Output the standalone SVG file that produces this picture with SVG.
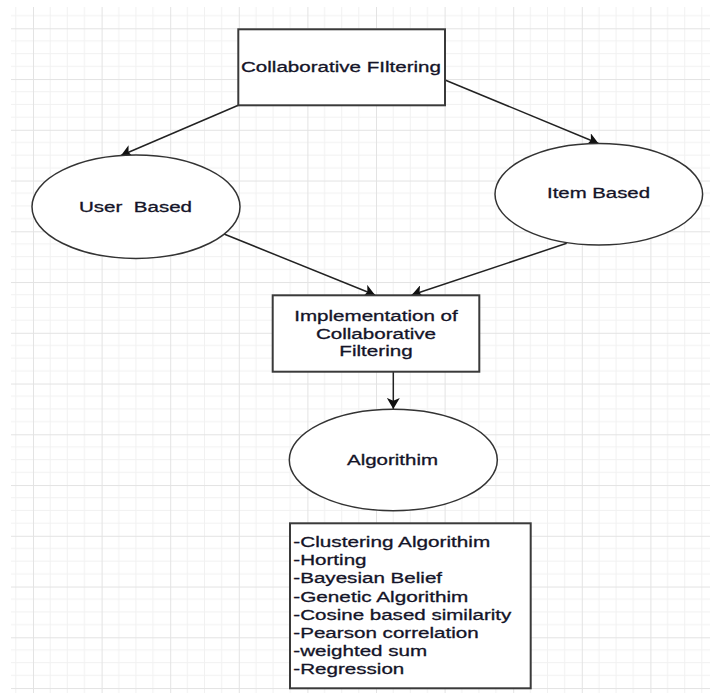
<svg xmlns="http://www.w3.org/2000/svg" width="710" height="695" viewBox="0 0 710 695">
  <style>
    .shape { fill: #ffffff; stroke: #333333; stroke-width: 1.5; }
    .box { fill: #ffffff; stroke: #3a3a3a; stroke-width: 2; }
    .edge { fill: none; stroke: #222222; stroke-width: 1.5; marker-end: url(#arrow); }
    .lbl { font-family: "Liberation Sans", Arial, sans-serif; font-size: 15.2px; fill: #141428; stroke: #141428; stroke-width: 0.3; white-space: pre; }
    .mid { text-anchor: middle; }
  </style>
  <defs>
    <pattern id="grid" patternUnits="userSpaceOnUse" x="33" y="28.3" width="68.6" height="50.75">
      <g stroke="#f1f1f1" stroke-width="1">
        <line x1="17.15" y1="0" x2="17.15" y2="50.75"/>
        <line x1="34.3" y1="0" x2="34.3" y2="50.75"/>
        <line x1="51.45" y1="0" x2="51.45" y2="50.75"/>
        <line x1="0" y1="12.69" x2="68.6" y2="12.69"/>
        <line x1="0" y1="25.38" x2="68.6" y2="25.38"/>
        <line x1="0" y1="38.06" x2="68.6" y2="38.06"/>
      </g>
      <g stroke="#e3e3e3" stroke-width="1">
        <line x1="0.5" y1="0" x2="0.5" y2="50.75"/>
        <line x1="0" y1="0.5" x2="68.6" y2="0.5"/>
      </g>
    </pattern>
    <marker id="arrow" viewBox="0 0 11 13" markerWidth="11" markerHeight="13" refX="11" refY="6.5" orient="auto" markerUnits="userSpaceOnUse">
      <path d="M0,0 L11,6.5 L0,13 L2.8,6.5 Z" fill="#111111"/>
    </marker>
  </defs>

  <rect x="0" y="0" width="710" height="695" fill="#ffffff"/>
  <rect x="11" y="7" width="699" height="686" fill="url(#grid)"/>

  <g id="connectors">
    <line class="edge" x1="238.3" y1="105.3" x2="121" y2="155.5"/>
    <line class="edge" x1="445" y1="80" x2="598.5" y2="143.5"/>
    <line class="edge" x1="224" y1="234" x2="375" y2="295"/>
    <line class="edge" x1="566.7" y1="243.3" x2="411.7" y2="295"/>
    <line class="edge" x1="393.3" y1="371.7" x2="393.3" y2="409"/>
  </g>

  <g id="collaborative-filtering">
    <rect class="box" x="238.3" y="29.3" width="206.7" height="76"/>
    <text class="lbl mid" x="341" y="72" textLength="200" lengthAdjust="spacingAndGlyphs">Collaborative FIltering</text>
  </g>

  <g id="user-based">
    <ellipse class="shape" cx="136" cy="206.7" rx="104" ry="51.7"/>
    <text class="lbl mid" x="135.5" y="211.6" textLength="113" lengthAdjust="spacingAndGlyphs">User  Based</text>
  </g>

  <g id="item-based">
    <ellipse class="shape" cx="598.8" cy="194.2" rx="103.8" ry="50.8"/>
    <text class="lbl mid" x="598.5" y="198.3" textLength="103" lengthAdjust="spacingAndGlyphs">Item Based</text>
  </g>

  <g id="implementation">
    <rect class="box" x="272.7" y="295.3" width="206.6" height="76.4"/>
    <text class="lbl mid" x="376" y="321.4" textLength="163.5" lengthAdjust="spacingAndGlyphs">Implementation of</text>
    <text class="lbl mid" x="376" y="338.7" textLength="120.2" lengthAdjust="spacingAndGlyphs">Collaborative</text>
    <text class="lbl mid" x="376" y="356" textLength="73.3" lengthAdjust="spacingAndGlyphs">Filtering</text>
  </g>

  <g id="algorithm">
    <ellipse class="shape" cx="393.3" cy="460" rx="104" ry="50.7"/>
    <text class="lbl mid" x="392.5" y="465" textLength="91" lengthAdjust="spacingAndGlyphs">Algorithim</text>
  </g>

  <g id="algorithm-list">
    <rect class="box" x="290" y="523.3" width="240.7" height="165"/>
    <text class="lbl" x="293.3" y="547.1" textLength="196.9" lengthAdjust="spacingAndGlyphs">-Clustering Algorithim</text>
    <text class="lbl" x="293.3" y="565.25" textLength="73.3" lengthAdjust="spacingAndGlyphs">-Horting</text>
    <text class="lbl" x="293.3" y="583.4" textLength="148.8" lengthAdjust="spacingAndGlyphs">-Bayesian Belief</text>
    <text class="lbl" x="293.3" y="601.55" textLength="175.1" lengthAdjust="spacingAndGlyphs">-Genetic Algorithim</text>
    <text class="lbl" x="293.3" y="619.7" textLength="218" lengthAdjust="spacingAndGlyphs">-Cosine based similarity</text>
    <text class="lbl" x="293.3" y="637.85" textLength="185.5" lengthAdjust="spacingAndGlyphs">-Pearson correlation</text>
    <text class="lbl" x="293.3" y="656" textLength="133.9" lengthAdjust="spacingAndGlyphs">-weighted sum</text>
    <text class="lbl" x="293.3" y="674.15" textLength="111" lengthAdjust="spacingAndGlyphs">-Regression</text>
  </g>
</svg>
